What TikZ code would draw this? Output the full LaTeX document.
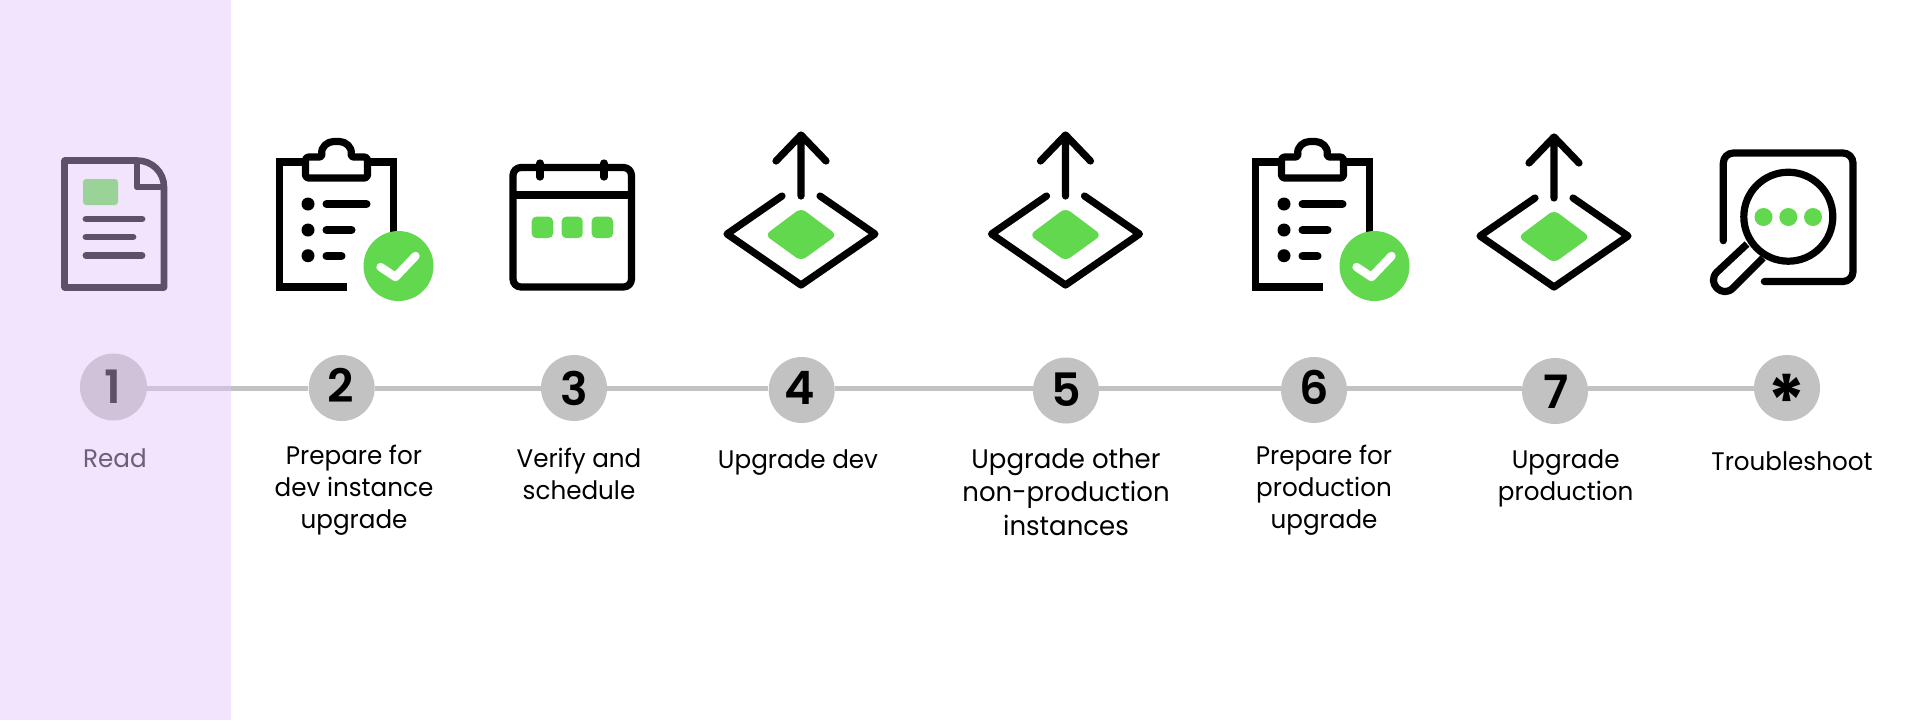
\documentclass[tikz,border=0pt]{standalone}
\usepackage{fontspec}
\setmainfont[FakeStretch=0.97]{Poppins}
\newfontfamily\numfont{Poppins SemiBold}
\newfontfamily\astfont{Poppins}
\definecolor{bgp}{HTML}{F2E4FC}
\definecolor{grn}{HTML}{62D84E}
\definecolor{grnsoft}{HTML}{99D398}
\definecolor{docc}{HTML}{5E5068}
\definecolor{readc}{HTML}{6E5E7C}
\definecolor{disc}{HTML}{C2C2C2}
\definecolor{discp}{HTML}{CFC2D9}
\tikzset{
  ink/.style={draw=black,line width=3.6pt,line cap=round,line join=round,fill=none},
  thin ink/.style={draw=docc,line width=3.3pt,line join=round,fill=none},
  disc/.style={circle,fill=disc,minimum size=33pt,inner sep=0pt},
  num/.style={font=\numfont\fontsize{23}{23}\selectfont,inner sep=0pt},
  lab/.style={font=\fontsize{12.7}{16}\selectfont,align=center,inner sep=0pt},
  conn/.style={draw=disc,line width=2.5pt},
}
\newcommand{\clipicon}[2]{%
 \begin{scope}[shift={(#1,#2)}]
  \draw[ink,line join=miter,line cap=butt] (-31,-62) -- (-57,-62) -- (-57,63) -- (10,63) (31,-62) -- (57,-62) -- (57,40);
  \draw[ink,rounded corners=1.5pt] (-31,-46) -- (-31,-67) -- (-14,-67) .. controls (-16,-77) and (-9,-82.5) .. (0,-82.5) .. controls (9,-82.5) and (16,-77) .. (14,-67) -- (31,-67) -- (31,-46) -- cycle;
  \fill (-28.5,-20) circle (6.5) (-28.5,6) circle (6.5) (-28.5,31.7) circle (6.5);
  \draw[ink,line width=4pt] (-10,-20) -- (30,-20) (-10,6) -- (15,6) (-10,32) -- (5,32);
  \fill[grn] (62,42) circle (35);
  \draw[draw=white,line width=4.2pt,line cap=round,line join=round] (44,43) -- (59,53) -- (79,32);
 \end{scope}}
\newcommand{\upicon}[2]{%
 \begin{scope}[shift={(#1,#2)}]
  \draw[ink] (0,-38) -- (0,-99) (-25,-73) -- (0,-99) -- (25,-73);
  \draw[ink] (-19,-38) -- (-74,0) -- (0,51) -- (74,0) -- (19,-38);
  \fill[grn,rounded corners=3pt] (0,-26) -- (-36,1) -- (0,27) -- (36,1) -- cycle;
 \end{scope}}
\begin{document}
\begin{tikzpicture}[x=0.5pt,y=-0.5pt]
\useasboundingbox (0,0) rectangle (1920,720);
\fill[white] (0,0) rectangle (1920,720);
\fill[bgp] (0,0) rectangle (230.7,720);
\coordinate (base) at (0,388);
\coordinate (edge) at (230.7,388);
% discs
\node[disc,fill=discp,minimum size=33.5pt] (c1) at (113.5,387) {};
\node[disc] (c2) at (341.7,388) {};
\node[disc] (c3) at (574,388) {};
\node[disc] (c4) at (801.7,390) {};
\node[disc] (c5) at (1066,390.5) {};
\node[disc] (c6) at (1314,390) {};
\node[disc] (c7) at (1555,391) {};
\node[disc] (c8) at (1787,388) {};
% connectors
\draw[conn,draw=discp] (c1.east |- base) -- (edge);
\draw[conn] (edge) -- (c2.west |- base);
\draw[conn] (c2.east |- base) -- (c3.west |- base);
\draw[conn] (c3.east |- base) -- (c4.west |- base);
\draw[conn] (c4.east |- base) -- (c5.west |- base);
\draw[conn] (c5.east |- base) -- (c6.west |- base);
\draw[conn] (c6.east |- base) -- (c7.west |- base);
\draw[conn] (c7.east |- base) -- (c8.west |- base);
% numbers
\node[num,text=docc] (n1) at (113,387) {1};
\node[num] (n2) at (341,385) {2};
\node[num] (n3) at (574,388) {3};
\node[num] (n4) at (800,388) {4};
\node[num] (n5) at (1066,390) {5};
\node[num] (n6) at (1314,387) {6};
\node[num] (n7) at (1556,392) {7};
\node[inner sep=0pt,font=\astfont\bfseries\fontsize{36}{36}\selectfont] (n8) at (1787,401) {*};
% labels
\node[lab,text=readc] (l1) at (115,458) {Read};
\node[lab] (l2) at (354,490.5) {Prepare for\\dev instance\\upgrade};
\node[lab] (l3) at (579,473.5) {Verify and\\schedule};
\node[lab] (l4) at (798,463) {Upgrade dev};
\node[lab,font=\fontsize{13.4}{16.8}\selectfont] (l5) at (1066,492) {Upgrade other\\non-production\\instances};
\node[lab] (l6) at (1324,490.5) {Prepare for\\production\\upgrade};
\node[lab] (l7) at (1565.7,478) {Upgrade\\production};
\node[lab] (l8) at (1792,461) {Troubleshoot};
% document icon
\draw[thin ink] (137,160.5) -- (64.5,160.5) -- (64.5,287.5) -- (164,287.5) -- (164,187) .. controls (164,172) and (152,160.5) .. (137,160.5);
\draw[thin ink] (137,160.5) -- (137,187) -- (164,187);
\fill[grnsoft,rounded corners=1.5pt] (83,179) rectangle (118,205);
\draw[draw=docc,line width=3.4pt,line cap=round] (86,219) -- (142,219) (86,237) -- (133,237) (86,255.3) -- (142,255.3);
% clipboards
\clipicon{336.5}{224}
\clipicon{1312.5}{224}
% calendar
\draw[ink,rounded corners=4pt] (513,167.5) rectangle (631.5,287);
\draw[ink,line cap=butt] (513,195) -- (631.5,195);
\draw[ink] (540,163) -- (540,177) (604,163) -- (604,177);
\fill[grn,rounded corners=2.2pt] (531.7,216.7) rectangle (553,238) (561.7,216.7) rectangle (582.7,238) (591.7,216.7) rectangle (613,238);
% upload icons
\upicon{801}{234}
\upicon{1065.5}{234}
\upicon{1554}{236}
% magnifier
\draw[ink,rounded corners=5pt] (1723.3,240.7) -- (1723.3,153) -- (1853,153) -- (1853,281.5) -- (1764.3,281.5);
\fill[white] (1788.3,216.7) circle (44);
\draw[ink] (1788.3,216.7) circle (44.5);
\draw[ink,line cap=butt] (1747,244) -- (1717,272) .. controls (1706.2,282.8) and (1722.2,298.8) .. (1733,288) -- (1763,258);
\fill[grn] (1763.5,217) circle (9) (1788.3,217) circle (9) (1813,217) circle (9);
\end{tikzpicture}
\end{document}
